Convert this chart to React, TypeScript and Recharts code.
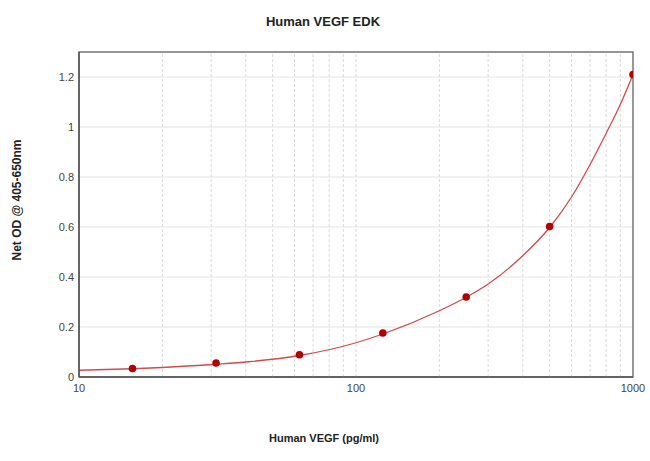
import React from 'react';
import { ComposedChart, Line, Scatter, XAxis, YAxis, CartesianGrid, ReferenceLine, ReferenceArea } from 'recharts';

// standards (pg/ml) and their net OD
const standardConc = [15.6, 31.25, 62.5, 125, 250, 500, 1000];
const standardOD = [0.034, 0.056, 0.089, 0.176, 0.32, 0.602, 1.21];

// fitted curve
const curveConc = [10, 15.6, 20, 31.25, 41, 62.5, 100, 125, 200, 250, 300, 400, 500, 600, 700, 800, 900, 1000];
const curveOD = [0.027, 0.033, 0.038, 0.051, 0.061, 0.086, 0.137, 0.172, 0.265, 0.319, 0.372, 0.485, 0.598, 0.72, 0.85, 0.975, 1.09, 1.21];

const xTicks = [10, 100, 1000];
const yTicks = [0, 0.2, 0.4, 0.6, 0.8, 1, 1.2];
const minorGrid = [20, 30, 40, 50, 60, 70, 80, 90, 100, 200, 300, 400, 500, 600, 700, 800, 900];

const standards = standardConc.map((x, i) => ({ x, y: standardOD[i] }));
const curve = curveConc.map((x, i) => ({ x, y: curveOD[i] }));

const FONT = '"Liberation Sans", Arial, sans-serif';
const tickStyle = { fill: '#444', fontSize: 11, fontFamily: FONT };

export default function App() {
  return (
    <div style={{ position: 'absolute', left: 0, top: 0, width: 650, height: 461, background: '#fff' }}>
      <div style={{ position: 'absolute', left: 0, width: 646, top: 14, textAlign: 'center', fontFamily: FONT, fontWeight: 'bold', fontSize: 13, color: '#222' }}>
        Human VEGF EDK
      </div>
      <ComposedChart width={650} height={461} margin={{ top: 52, right: 17, bottom: 54, left: 0 }}>
        <CartesianGrid vertical={false} stroke="#e4e4e4" />
        {minorGrid.map(v => (
          <ReferenceLine key={v} x={v} stroke="#dadada" strokeDasharray="3 2" />
        ))}
        <XAxis
          dataKey="x"
          type="number"
          scale="log"
          domain={[10, 1000]}
          ticks={xTicks}
          allowDataOverflow
          height={30}
          tickLine={false}
          tickSize={0}
          tickMargin={7}
          tick={tickStyle}
          axisLine={{ stroke: '#555', strokeWidth: 1.5 }}
        />
        <YAxis
          type="number"
          domain={[0, 1.3]}
          ticks={yTicks}
          width={79}
          tickLine={false}
          tickSize={0}
          tickMargin={5}
          tick={tickStyle}
          axisLine={{ stroke: '#555', strokeWidth: 1.5 }}
        />
        <ReferenceArea x1={10} x2={1000} y1={0} y2={1.3} fill="none" stroke="#777" strokeWidth={1.5} />
        <Line data={curve} dataKey="y" type="monotone" stroke="#d24a4a" strokeWidth={1.3} dot={false} isAnimationActive={false} />
        <Scatter
          data={standards}
          dataKey="y"
          isAnimationActive={false}
          shape={(p: any) => <circle cx={p.cx} cy={p.cy} r={3.8} fill="#b00000" />}
        />
      </ComposedChart>
      <div style={{ position: 'absolute', left: 324, top: 438, transform: 'translate(-50%,-50%)', whiteSpace: 'nowrap', fontFamily: FONT, fontWeight: 'bold', fontSize: 11, color: '#222' }}>
        Human VEGF (pg/ml)
      </div>
      <div style={{ position: 'absolute', left: 17, top: 200, transform: 'translate(-50%,-50%) rotate(-90deg)', whiteSpace: 'nowrap', fontFamily: FONT, fontWeight: 'bold', fontSize: 12, color: '#222' }}>
        Net OD @ 405-650nm
      </div>
    </div>
  );
}
